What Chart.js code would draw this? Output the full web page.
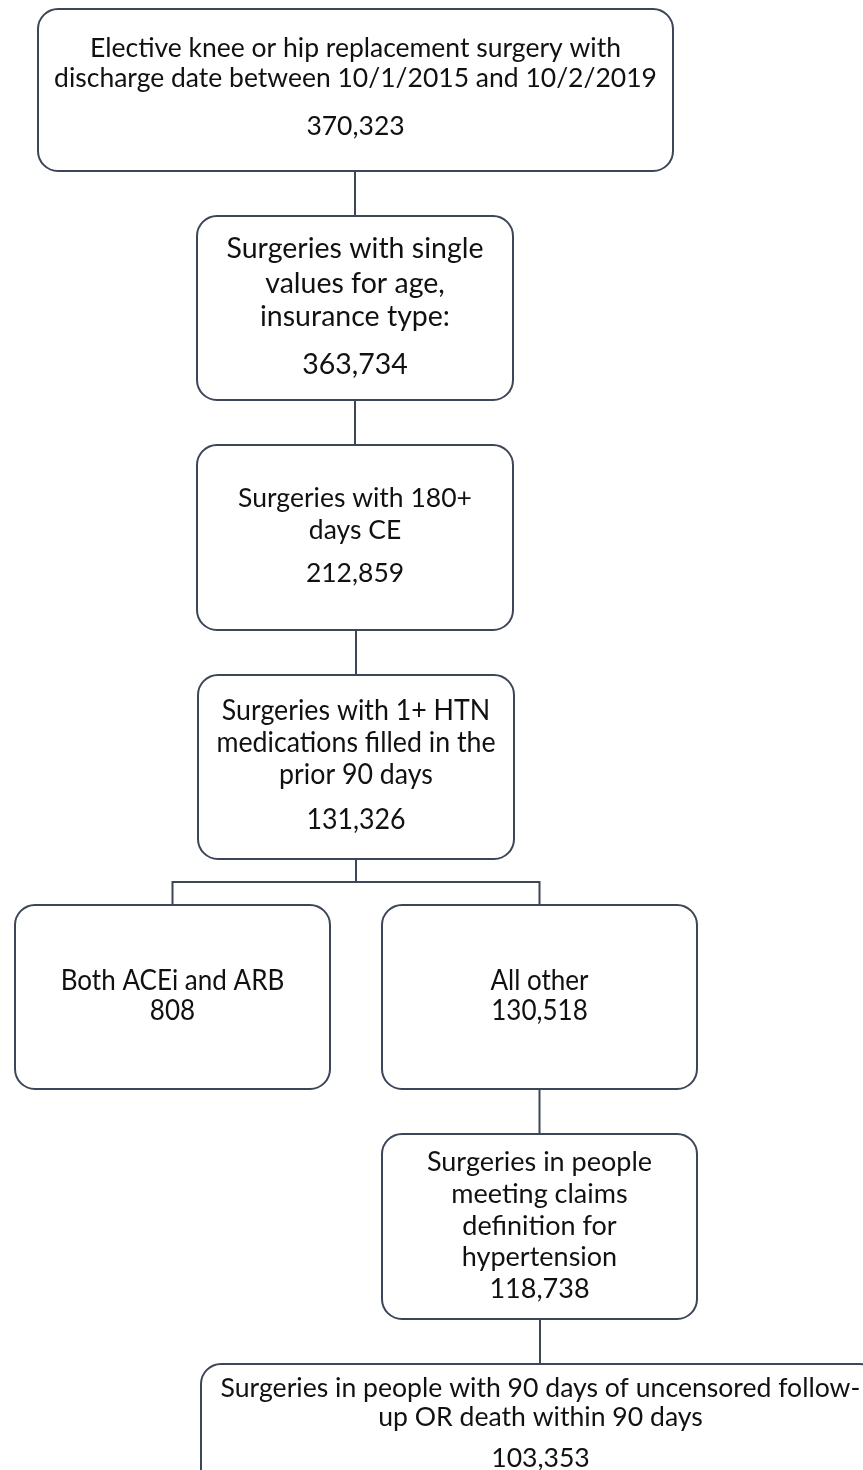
<!DOCTYPE html>
<html>
<head>
<meta charset="utf-8">
<script src="https://cdn.jsdelivr.net/npm/chart.js@4.4.1/dist/chart.umd.min.js"></script>
<style>
  html, body { margin: 0; padding: 0; background: #ffffff; }
  #flow { display: block; }
</style>
</head>
<body>
<canvas id="flow" width="863" height="1470"></canvas>
<script>
/*
    Cohort flow chart: each step's text and the number of surgeries left.
*/
const stepText = [
    ['Elective knee or hip replacement surgery with', 'discharge date between 10/1/2015 and 10/2/2019'],
    ['Surgeries with single', 'values for age,', 'insurance type:'],
    ['Surgeries with 180+', 'days CE'],
    ['Surgeries with 1+ HTN', 'medications filled in the', 'prior 90 days'],
    ['Both ACEi and ARB'],
    ['All other'],
    ['Surgeries in people', 'meeting claims', 'definition for', 'hypertension'],
    ['Surgeries in people with 90 days of uncensored follow-', 'up OR death within 90 days']
];
const stepCounts = [370323, 363734, 212859, 131326, 808, 130518, 118738, 103353];
const stepParent = [null, 0, 1, 2, 3, 3, 5, 6];

// Layout of the boxes, in page units (the scales run 0..863 and 0..1470)
const boxLayout = [
    { x0: 38,  y0: 9,    x1: 673, y1: 171,  lines: [48, 78],                 countY: 126,  size: 26.5, squeeze: 1 },
    { x0: 197, y0: 216,  x1: 513, y1: 400,  lines: [249, 284, 317],          countY: 365,  size: 28.5, squeeze: 1 },
    { x0: 197, y0: 445,  x1: 513, y1: 630,  lines: [498, 530],               countY: 573,  size: 26.5, squeeze: 1 },
    { x0: 198, y0: 675,  x1: 514, y1: 859,  lines: [711, 743, 775],          countY: 820,  size: 28,   squeeze: 0.955 },
    { x0: 15,  y0: 905,  x1: 330, y1: 1089, lines: [981],                    countY: 1011, size: 28,   squeeze: 0.93 },
    { x0: 382, y0: 905,  x1: 697, y1: 1089, lines: [981],                    countY: 1011, size: 28,   squeeze: 0.93 },
    { x0: 382, y0: 1134, x1: 697, y1: 1319, lines: [1162, 1194, 1226, 1257], countY: 1289, size: 27,   squeeze: 1 },
    { x0: 201, y0: 1364, x1: 880, y1: 1530, lines: [1388, 1417],             countY: 1458, size: 26.6, squeeze: 1 }
];
const splitY = 882;          // where the branch to the two groups splits
const attachX = { 7: 540 };  // connector enters this box off-centre

const lineColour = '#3c4657';
const textColour = '#111111';
const fontName = 'Lato, "Open Sans", sans-serif';

function boxCentre(i) {
    const b = boxLayout[i];
    return { x: (b.x0 + b.x1) / 2, y: (b.y0 + b.y1) / 2 };
}

const flowPlugin = {
    id: 'flowBoxes',
    afterDatasetsDraw(chart) {
        const ctx = chart.ctx;
        const xs = chart.scales.x;
        const ys = chart.scales.y;
        const px = v => xs.getPixelForValue(v);
        const py = v => ys.getPixelForValue(v);

        ctx.save();
        ctx.strokeStyle = lineColour;
        ctx.lineWidth = 2;

        // connectors
        for (let i = 0; i < stepParent.length; i++) {
            const p = stepParent[i];
            if (p === null) continue;
            const from = boxLayout[p];
            const to = boxLayout[i];
            const fx = boxCentre(p).x;
            const tx = attachX[i] !== undefined ? attachX[i] : boxCentre(i).x;
            ctx.beginPath();
            if (Math.abs(fx - tx) < 2) {
                ctx.moveTo(px(tx), py(from.y1));
                ctx.lineTo(px(tx), py(to.y0));
            } else {
                ctx.moveTo(px(fx), py(from.y1));
                ctx.lineTo(px(fx), py(splitY));
                ctx.lineTo(px(tx), py(splitY));
                ctx.lineTo(px(tx), py(to.y0));
            }
            ctx.stroke();
        }

        // boxes and text
        ctx.textAlign = 'center';
        ctx.textBaseline = 'middle';
        for (let i = 0; i < boxLayout.length; i++) {
            const b = boxLayout[i];
            const x0 = px(b.x0), x1 = px(b.x1), y0 = py(b.y0), y1 = py(b.y1);
            ctx.beginPath();
            ctx.roundRect(x0, y0, x1 - x0, y1 - y0, 20);
            ctx.fillStyle = '#ffffff';
            ctx.fill();
            ctx.stroke();

            ctx.fillStyle = textColour;
            ctx.font = b.size + 'px ' + fontName;
            const cx = px(boxCentre(i).x);
            const rows = stepText[i].map((t, k) => [t, b.lines[k]]);
            rows.push([stepCounts[i].toLocaleString('en-US'), b.countY]);
            rows.forEach(([t, y]) => {
                ctx.save();
                ctx.translate(cx, py(y));
                ctx.scale(b.squeeze, 1);
                ctx.fillText(t, 0, 0);
                ctx.restore();
            });
        }
        ctx.restore();
    }
};

const ctx = document.getElementById('flow').getContext('2d');
const flowChart = new Chart(ctx, {
    type: 'scatter',
    data: {
        datasets: [{
            label: 'Surgeries',
            data: stepCounts.map((n, i) => ({ x: boxCentre(i).x, y: boxCentre(i).y, n: n })),
            pointRadius: 0,
            pointHoverRadius: 0
        }]
    },
    options: {
        responsive: false,
        animation: false,
        layout: { padding: 0 },
        scales: {
            x: { type: 'linear', min: 0, max: 863, display: false },
            y: { type: 'linear', min: 0, max: 1470, reverse: true, display: false }
        },
        plugins: {
            legend: { display: false },
            tooltip: { enabled: false }
        }
    },
    plugins: [flowPlugin]
});
</script>
</body>
</html>
